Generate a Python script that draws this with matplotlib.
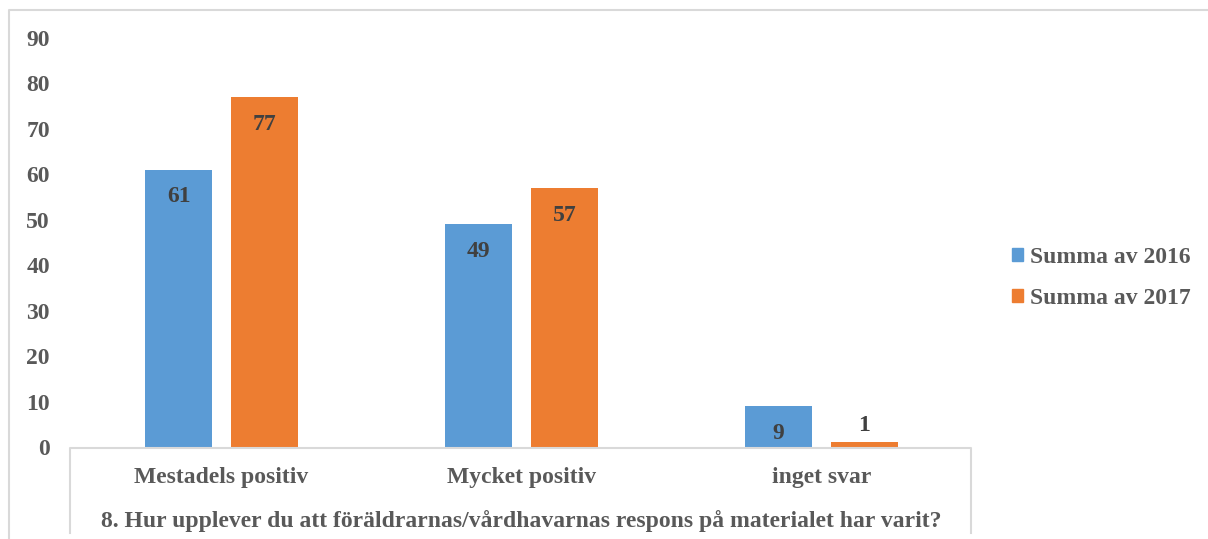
import matplotlib.pyplot as plt
import numpy as np
from matplotlib.patches import Rectangle
from matplotlib.lines import Line2D

plt.rcParams['font.family'] = ['Liberation Serif', 'DejaVu Serif']
plt.rcParams['font.weight'] = 'bold'

categories = ['Mestadels positiv', 'Mycket positiv', 'inget svar']
series_names = ['Summa av 2016', 'Summa av 2017']
values_2016 = [61, 49, 9]
values_2017 = [77, 57, 1]
yticks = [0, 10, 20, 30, 40, 50, 60, 70, 80, 90]
xtitle = '8. Hur upplever du att föräldrarnas/vårdhavarnas respons på materialet har varit?'

blue = '#5B9BD5'
orange = '#ED7D31'
label_col = '#404040'
axis_col = '#595959'
border_col = '#D9D9D9'
fs = 17

W, H = 1208, 539
fig = plt.figure(figsize=(W / 100, H / 100), dpi=100)

# plot area in pixels
left, right, top, bottom = 71.5, 971.5, 38, 447
ax = fig.add_axes([left / W, 1 - bottom / H, (right - left) / W, (bottom - top) / H])

x = np.arange(len(categories))
w = 0.223
off = 0.143
b1 = ax.bar(x - off, values_2016, w, color=blue, label=series_names[0])
b2 = ax.bar(x + off, values_2017, w, color=orange, label=series_names[1])

ax.set_xlim(-0.5, len(categories) - 0.5)
ax.set_ylim(0, 90)
ax.set_yticks(yticks)
ax.set_yticklabels([str(t) for t in yticks], fontsize=fs, color=axis_col, fontweight='bold')
ax.tick_params(axis='y', length=0, pad=15.5)
ax.set_xticks([])
for s in ax.spines.values():
    s.set_visible(False)

# data labels: inside end, or above when the bar is too short
for bars in (b1, b2):
    for r in bars:
        v = r.get_height()
        cx = r.get_x() + r.get_width() / 2
        dy = -19.5 if v >= 5 else 12
        ax.annotate(str(int(v)), (cx, v), xytext=(0, dy), textcoords='offset points',
                    ha='center', va='center', fontsize=fs, color=label_col, fontweight='bold')

# category box below the axis
for i, c in enumerate(categories):
    fig.text((left + (right - left) * (i + 0.5) / len(categories)) / W, 1 - 477 / H, c,
             ha='center', va='center', fontsize=fs, color=axis_col, fontweight='bold')
fig.text((left + right) / 2 / W, 1 - 521 / H, xtitle, ha='center', va='center',
         fontsize=fs, color=axis_col, fontweight='bold')

def px_line(xs, ys):
    fig.add_artist(Line2D([p / W for p in xs], [1 - p / H for p in ys],
                          color=border_col, lw=1.5))

px_line([70, 70, 971, 971], [533, 448, 448, 533])
# outer chart border
px_line([9, 9, W], [H, 10, 10])

handles = [Rectangle((0, 0), 1, 1, color=blue), Rectangle((0, 0), 1, 1, color=orange)]
leg = fig.legend(handles, series_names, loc='center left', bbox_to_anchor=(991 / W, 1 - 278 / H),
                 frameon=False, fontsize=fs, handlelength=0.45, handleheight=0.45,
                 handletextpad=0.3, labelspacing=0.85)
for t in leg.get_texts():
    t.set_color(axis_col)
    t.set_fontweight('bold')

fig.savefig('out.png', dpi=100)
